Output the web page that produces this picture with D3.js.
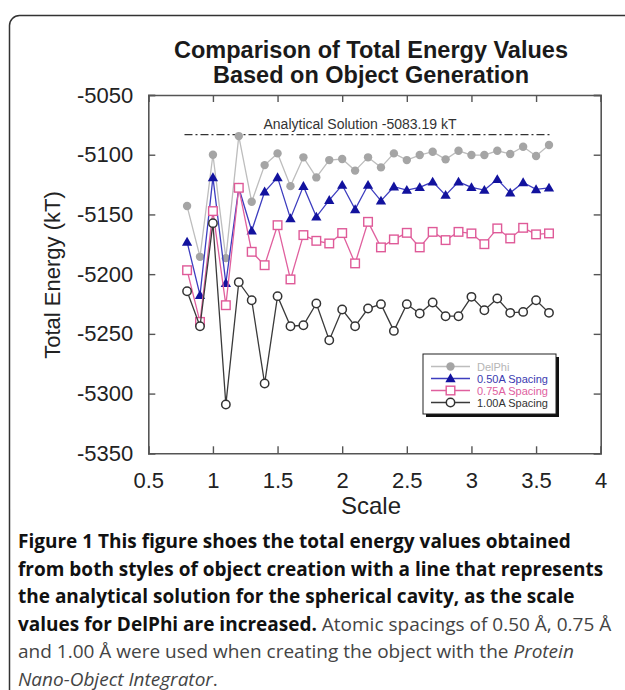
<!DOCTYPE html>
<html><head><meta charset="utf-8">
<script src="https://cdn.jsdelivr.net/npm/d3@7"></script>
<style>
html,body{margin:0;padding:0;background:#fff;}
svg{display:block;}
</style>
</head><body>
<svg id="c" width="625" height="690"></svg>
<script>
// ---- data ----
const scales = [0.8,0.9,1.0,1.1,1.2,1.3,1.4,1.5,1.6,1.7,1.8,1.9,2.0,2.1,2.2,2.3,2.4,2.5,2.6,2.7,2.8,2.9,3.0,3.1,3.2,3.3,3.4,3.5,3.6];
const delphi = [-5143,-5185.5,-5100,-5186.6,-5084.4,-5139.4,-5108.7,-5098.9,-5126.3,-5102.2,-5119,-5104.5,-5103.6,-5113.3,-5102.2,-5110.6,-5098.9,-5104.5,-5100.3,-5097.5,-5103.9,-5096.7,-5100.3,-5100.3,-5096.7,-5099.4,-5093.3,-5101.1,-5091.9];
const spacing050 = [-5173,-5217.6,-5119,-5207.5,-5127.7,-5163.7,-5131,-5119,-5153.3,-5126.3,-5152,-5138,-5125.4,-5145.8,-5125.4,-5138.6,-5126.8,-5129.6,-5127.3,-5122.7,-5133.8,-5122.7,-5127.3,-5129.6,-5120.6,-5131.9,-5123.2,-5129,-5127.7];
const spacing075 = [-5196.7,-5240,-5147.2,-5226,-5127.7,-5181.3,-5192.5,-5159,-5204.4,-5167.3,-5172.1,-5174.3,-5165.6,-5191,-5156.2,-5177.6,-5170.9,-5165.4,-5177.6,-5164.6,-5171.5,-5164.6,-5165.9,-5174.9,-5161.7,-5170.1,-5161.2,-5166.7,-5165.9];
const spacing100 = [-5214.3,-5243.6,-5157.3,-5309.2,-5206.7,-5221.8,-5291.6,-5218.4,-5243.6,-5242.8,-5224.6,-5255.3,-5229.6,-5243.6,-5228.8,-5225.1,-5247.5,-5225.1,-5232.9,-5223.7,-5235.2,-5235.2,-5219,-5230.2,-5220.4,-5232.4,-5231.6,-5221.8,-5232.4];
const analytical = -5083.19;
const analyticalRange = [0.78, 3.62];
const xTicks = [0.5,1,1.5,2,2.5,3,3.5,4];
const yTicks = [-5050,-5100,-5150,-5200,-5250,-5300,-5350];
const seriesNames = ["DelPhi","0.50A Spacing","0.75A Spacing","1.00A Spacing"];
const titleLines = ["Comparison of Total Energy Values","Based on Object Generation"];

// ---- layout ----
const svg = d3.select("#c");
const L = 148.3, R = 600.7, T = 95, B = 453.3;
const x = d3.scaleLinear().domain([0.5,4]).range([L,R]);
const y = d3.scaleLinear().domain([-5350,-5050]).range([B,T]);
const FONT = "'Liberation Sans', Arial, sans-serif";
const fmt = d => String(d);

// outer figure frame
svg.append("rect").attr("x",9.5).attr("y",15.5).attr("width",640).attr("height",700)
  .attr("rx",10).attr("fill","none").attr("stroke","#333").attr("stroke-width",1.5);

// title
svg.append("g").selectAll("text").data(titleLines).join("text")
  .attr("x",371).attr("y",(d,i)=>58+i*24.5).attr("text-anchor","middle")
  .attr("font-family",FONT).attr("font-weight","bold").attr("font-size",23.5).attr("fill","#1a1a1a")
  .text(d=>d);

// axes (box with inward ticks)
const axCol = "#555";
const gB = svg.append("g").attr("transform",`translate(0,${B})`)
  .call(d3.axisBottom(x).tickValues(xTicks).tickSize(-7).tickPadding(19).tickFormat(fmt));
const gT = svg.append("g").attr("transform",`translate(0,${T})`)
  .call(d3.axisTop(x).tickValues(xTicks).tickSize(-7).tickFormat(""));
const gL = svg.append("g").attr("transform",`translate(${L},0)`)
  .call(d3.axisLeft(y).tickValues(yTicks).tickSize(-7).tickPadding(15).tickFormat(fmt));
const gR = svg.append("g").attr("transform",`translate(${R},0)`)
  .call(d3.axisRight(y).tickValues(yTicks).tickSize(-7).tickFormat(""));
[gB,gT,gL,gR].forEach(g=>{
  g.select(".domain").attr("stroke",axCol).attr("stroke-width",1.6);
  g.selectAll(".tick line").attr("stroke",axCol).attr("stroke-width",1.4);
  g.selectAll("text").attr("font-family",FONT).attr("font-size",22).attr("fill","#222");
});
gB.selectAll(".tick text").attr("dy","0.71em");

// axis titles
svg.append("text").attr("x",371).attr("y",514).attr("text-anchor","middle")
  .attr("font-family",FONT).attr("font-size",24).attr("fill","#222").text("Scale");
svg.append("text").attr("transform","translate(60,275) rotate(-90)").attr("text-anchor","middle")
  .attr("font-family",FONT).attr("font-size",22).attr("fill","#222").text("Total Energy (kT)");

// analytical line
svg.append("line").attr("x1",x(analyticalRange[0])).attr("x2",x(analyticalRange[1]))
  .attr("y1",y(analytical)).attr("y2",y(analytical))
  .attr("stroke","#333").attr("stroke-width",1.3).attr("stroke-dasharray","8,3,2,3");
svg.append("text").attr("x",360).attr("y",y(analytical)-6).attr("text-anchor","middle")
  .attr("font-family",FONT).attr("font-size",14).attr("fill","#333")
  .text("Analytical Solution -5083.19 kT");

// series
const series = [
  {name:seriesNames[0], vals:delphi, line:"#bdbdbd", mark:"circleFill", mc:"#a5a5a5", tc:"#b5b5b5"},
  {name:seriesNames[1], vals:spacing050, line:"#3d3dbf", mark:"triangle", mc:"#12129e", tc:"#3a3ab0"},
  {name:seriesNames[2], vals:spacing075, line:"#e0609e", mark:"square", mc:"#df5a98", tc:"#e0609e"},
  {name:seriesNames[3], vals:spacing100, line:"#3a3a3a", mark:"circleOpen", mc:"#333", tc:"#333"}
];
const lineGen = d3.line().x(d=>x(d[0])).y(d=>y(d[1]));
function drawMarker(g, s, cx, cy){
  if(s.mark==="circleFill") g.append("circle").attr("cx",cx).attr("cy",cy).attr("r",4.2).attr("fill",s.mc);
  else if(s.mark==="circleOpen") g.append("circle").attr("cx",cx).attr("cy",cy).attr("r",4.2).attr("fill","#fff").attr("stroke",s.mc).attr("stroke-width",1.5);
  else if(s.mark==="square") g.append("rect").attr("x",cx-4.3).attr("y",cy-4.3).attr("width",8.6).attr("height",8.6).attr("fill","#fff").attr("stroke",s.mc).attr("stroke-width",1.4);
  else if(s.mark==="triangle") g.append("path").attr("transform",`translate(${cx},${cy+0.8})`)
     .attr("d",d3.symbol().type(d3.symbolTriangle).size(46)()).attr("fill",s.mc);
}
series.forEach(s=>{
  const pts = scales.map((sc,i)=>[sc,s.vals[i]]);
  const g = svg.append("g");
  g.append("path").attr("d",lineGen(pts)).attr("fill","none").attr("stroke",s.line).attr("stroke-width",1.3);
  pts.forEach(p=>drawMarker(g,s,x(p[0]),y(p[1])));
});

// legend
const lg = svg.append("g");
lg.append("rect").attr("x",426).attr("y",357).attr("width",133).attr("height",60).attr("fill","#111");
lg.append("rect").attr("x",423).attr("y",354).attr("width",133).attr("height",60).attr("fill","#fff").attr("stroke","#222").attr("stroke-width",1);
series.forEach((s,i)=>{
  const yy = 366.5 + i*12;
  lg.append("line").attr("x1",431).attr("x2",470).attr("y1",yy).attr("y2",yy).attr("stroke",s.line).attr("stroke-width",1.3);
  drawMarker(lg,s,450.5,yy);
  lg.append("text").attr("x",477).attr("y",yy+4).attr("font-family",FONT).attr("font-size",11).attr("fill",s.tc).text(s.name);
});

// caption
const CF = "'Open Sans', 'Noto Sans', sans-serif";
const cap = svg.append("g").attr("font-family",CF).attr("font-size",19);
const capLines = [
  [{t:"Figure 1 This figure shoes the total energy values obtained",b:1}],
  [{t:"from both styles of object creation with a line that represents",b:1}],
  [{t:"the analytical solution for the spherical cavity, as the scale",b:1}],
  [{t:"values for DelPhi are increased.",b:1},{t:" Atomic spacings of 0.50 Å, 0.75 Å"}],
  [{t:"and 1.00 Å were used when creating the object with the "},{t:"Protein",i:1}],
  [{t:"Nano-Object Integrator",i:1},{t:"."}]
];
capLines.forEach((ln,i)=>{
  const t = cap.append("text").attr("x",18).attr("y",548+i*27.5);
  ln.forEach(seg=>{
    t.append("tspan").text(seg.t)
      .attr("font-weight",seg.b?"bold":"normal")
      .attr("font-style",seg.i?"italic":"normal")
      .attr("fill",seg.b?"#111":"#444");
  });
});
</script>
</body></html>
